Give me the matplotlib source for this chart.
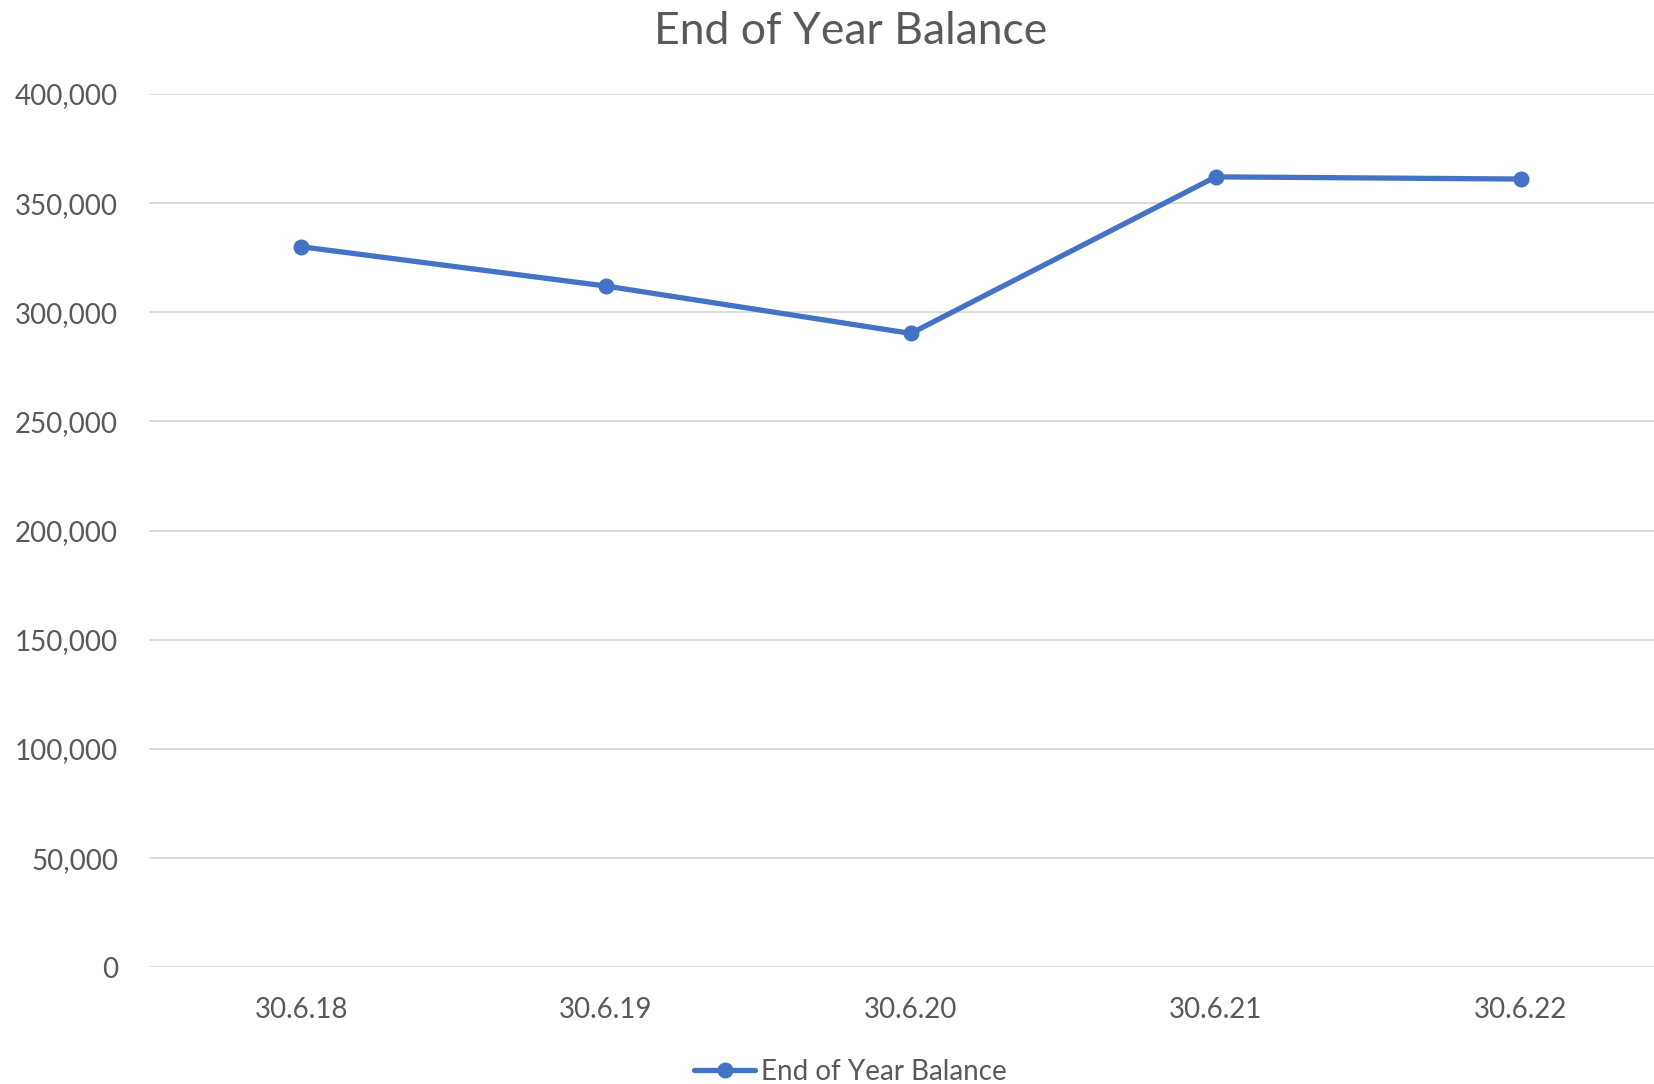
import matplotlib.pyplot as plt
from matplotlib.ticker import FuncFormatter

dates = ["30.6.18", "30.6.19", "30.6.20", "30.6.21", "30.6.22"]
balance = [330000, 312000, 290300, 362000, 361000]
y_ticks = [0, 50000, 100000, 150000, 200000, 250000, 300000, 350000, 400000]

plt.rcParams["font.family"] = ["Lato", "DejaVu Sans"]
grey = "#595959"
blue = "#4472C4"

fig = plt.figure(figsize=(16.54, 10.84), dpi=100)
ax = fig.add_axes([0.0899, 0.1076, 0.9216, 0.8058])

xs = range(len(dates))
ax.plot(xs, balance, color=blue, lw=3.8, marker="o", markersize=10.5,
        label="End of Year Balance", solid_capstyle="round")

ax.set_xlim(-0.5, len(dates) - 0.5)
ax.set_ylim(0, 400000)
ax.set_yticks(y_ticks)
ax.yaxis.set_major_formatter(FuncFormatter(lambda v, p: f"{int(v):,}"))
ax.set_xticks(list(xs))
ax.set_xticklabels(dates)

ax.grid(axis="y", color="#D9D9D9", lw=1.3)
ax.set_axisbelow(True)
for s in ax.spines.values():
    s.set_visible(False)
ax.tick_params(length=0, labelsize=20, colors=grey)
ax.tick_params(axis="x", pad=21)
ax.tick_params(axis="y", pad=22)

fig.text(0.514, 0.971, "End of Year Balance", ha="center", va="center",
         fontsize=32, color=grey)

fig.legend(loc="center", bbox_to_anchor=(0.514, 0.011), frameon=False,
           fontsize=20, labelcolor=grey, handlelength=2.2, handletextpad=0.2)

fig.savefig("out.png", dpi=100)
print("saved out.png")
